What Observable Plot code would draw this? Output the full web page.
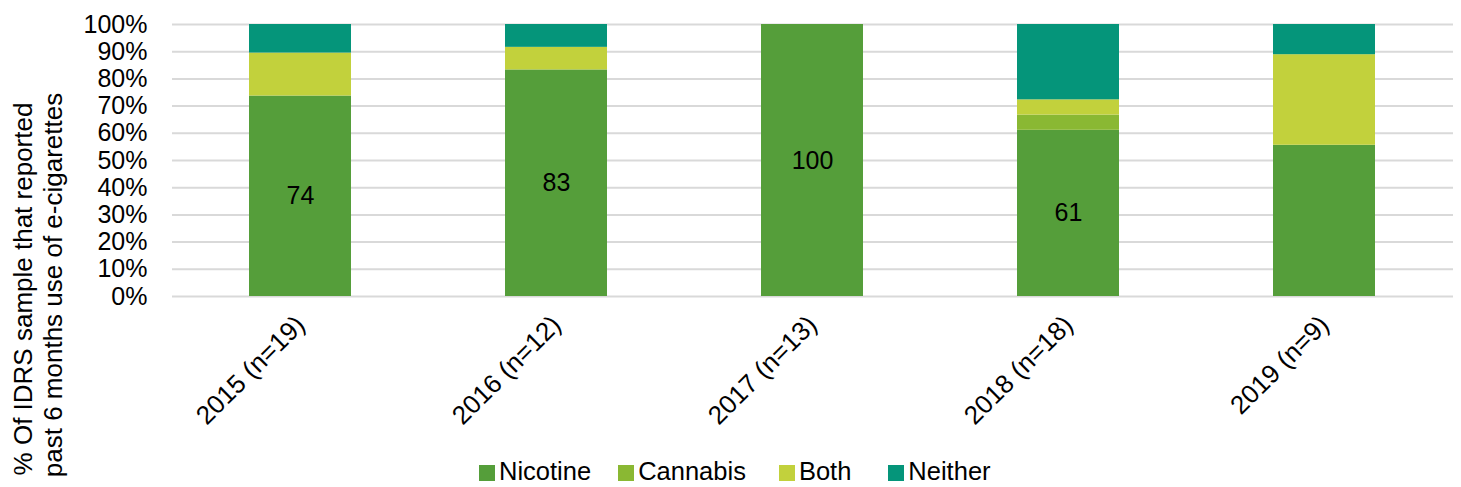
<!DOCTYPE html>
<html>
<head>
<meta charset="utf-8">
<script src="https://cdn.jsdelivr.net/npm/d3@7"></script>
<script src="https://cdn.jsdelivr.net/npm/@observablehq/plot@0.6"></script>
<style>
  html, body { margin: 0; padding: 0; background: #fff; }
  body { width: 1461px; height: 487px; position: relative; overflow: hidden; font-family: "Liberation Sans", Arial, sans-serif; }
  #chart { position: absolute; left: 0; top: 0; }
  .ylab { position: absolute; white-space: nowrap; font-size: 26px; line-height: 30px; color: #000; transform: translate(-50%, -50%) rotate(-90deg); }
  #legend { position: absolute; top: 457px; left: 479px; height: 29px; display: flex; align-items: center; font-size: 25.5px; line-height: 29px; }
  .item { display: flex; align-items: center; height: 29px; }
  .item span { display: block; height: 29px; line-height: 29px; }
  .sw { width: 16px; height: 16px; margin-right: 4px; margin-top: 3px; }
</style>
</head>
<body>
<div id="chart"></div>
<div class="ylab" style="left:23px; top:289px;">% Of IDRS sample that reported</div>
<div class="ylab" style="left:53px; top:285px;">past 6 months use of e-cigarettes</div>
<div id="legend"></div>
<script>
const categories = ["2015 (n=19)", "2016 (n=12)", "2017 (n=13)", "2018 (n=18)", "2019 (n=9)"];
const seriesNames = ["Nicotine", "Cannabis", "Both", "Neither"];
const nicotine = [73.7, 83.3, 100, 61.1, 55.6];
const cannabis = [0, 0, 0, 5.6, 0];
const both = [15.8, 8.3, 0, 5.6, 33.3];
const neither = [10.5, 8.4, 0, 27.7, 11.1];
const nicotineLabels = [74, 83, 100, 61, null];
const colors = ["#559E3A", "#8AB833", "#C2D13C", "#05957A"];
const yTicks = [0, 10, 20, 30, 40, 50, 60, 70, 80, 90, 100];

const seriesValues = [nicotine, cannabis, both, neither];
const data = [];
categories.forEach((c, i) => {
  seriesNames.forEach((s, j) => {
    data.push({category: c, series: s, value: seriesValues[j][i]});
  });
});
const labelData = categories.map((c, i) => ({category: c, value: nicotine[i], label: nicotineLabels[i]}))
  .filter(d => d.label != null);

const chart = Plot.plot({
  width: 1461,
  height: 457,
  marginTop: 24,
  marginBottom: 161,
  marginLeft: 172,
  marginRight: 8,
  style: {fontFamily: '"Liberation Sans", Arial, sans-serif', fontSize: "25px", color: "#000", background: "#fff", overflow: "visible"},
  x: {domain: categories, paddingInner: 0.6, paddingOuter: 0.3, label: null},
  y: {domain: [0, 100], label: null},
  color: {domain: seriesNames, range: colors},
  marks: [
    Plot.ruleY(yTicks, {stroke: "#d9d9d9", strokeWidth: 2}),
    Plot.barY(data, {x: "category", y: "value", fill: "series", order: seriesNames}),
    Plot.text(labelData, {x: "category", y: d => d.value / 2, text: d => String(d.label), fontSize: 25, fill: "#000"}),
    Plot.axisY({ticks: yTicks, tickFormat: d => d + "%", tickSize: 0, tickPadding: 25, fontSize: 25, label: null}),
    Plot.axisX({tickSize: 0, tickRotate: -45, tickPadding: 24, fontSize: 26, label: null})
  ]
});
document.getElementById("chart").appendChild(chart);

const gaps = [27, 33, 37, 0];
const legend = document.getElementById("legend");
seriesNames.forEach((s, i) => {
  const it = document.createElement("div");
  it.className = "item";
  it.style.marginRight = gaps[i] + "px";
  const sw = document.createElement("div");
  sw.className = "sw";
  sw.style.background = colors[i];
  const t = document.createElement("span");
  t.textContent = s;
  it.appendChild(sw);
  it.appendChild(t);
  legend.appendChild(it);
});
</script>
</body>
</html>
